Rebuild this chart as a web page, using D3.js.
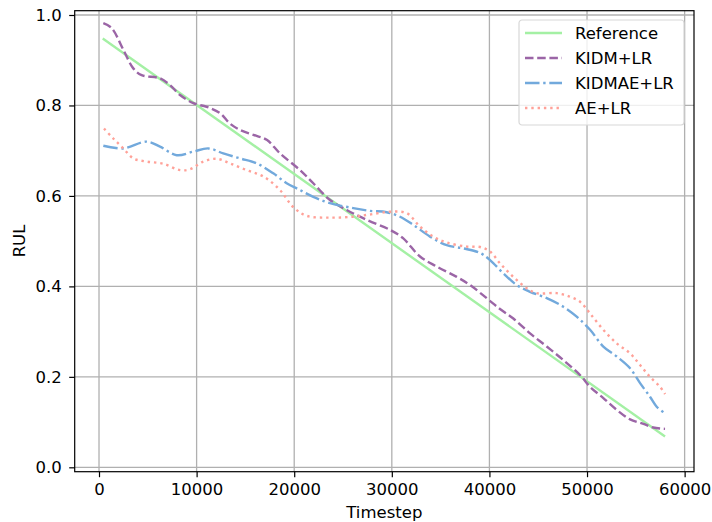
<!DOCTYPE html>
<html>
<head>
<meta charset="utf-8">
<script src="https://cdn.jsdelivr.net/npm/d3@7"></script>
<style>
  body { margin: 0; background: #fff; }
  svg { font-family: "DejaVu Sans", sans-serif; }
</style>
</head>
<body>
<svg id="chart" width="712" height="522"></svg>
<script>
// series: [timestep, RUL]
const reference_data = [[382, 0.948], [57993, 0.068]];

const kidm_data = [
  [442, 0.982], [1298, 0.971], [2496, 0.923], [3513, 0.882], [4368, 0.867], [6251, 0.860],
  [7277, 0.845], [8304, 0.823], [9663, 0.805], [11032, 0.797], [12401, 0.783], [13418, 0.760],
  [14445, 0.746], [15814, 0.735], [17183, 0.724], [18542, 0.694], [20596, 0.657], [21955, 0.628],
  [23666, 0.591], [25377, 0.569], [27431, 0.547], [29817, 0.525], [31176, 0.506], [32887, 0.466],
  [34598, 0.444], [36652, 0.421], [38011, 0.403], [39722, 0.374], [41081, 0.350], [42450, 0.329],
  [44162, 0.296], [45873, 0.267], [47574, 0.237], [49285, 0.204], [50312, 0.178], [51671, 0.153],
  [53040, 0.127], [54409, 0.106], [55778, 0.096], [56795, 0.088], [57993, 0.085]
];

const kidmae_data = [
  [442, 0.711], [2496, 0.705], [4882, 0.720], [6251, 0.709], [7962, 0.690], [9663, 0.698],
  [11203, 0.705], [12734, 0.694], [14445, 0.683], [16156, 0.672], [17857, 0.650], [19226, 0.628],
  [20424, 0.615], [21955, 0.598], [23666, 0.584], [26052, 0.573], [27763, 0.567], [29474, 0.564],
  [30843, 0.554], [32202, 0.536], [33914, 0.510], [35625, 0.491], [37326, 0.484], [39038, 0.474],
  [40064, 0.458], [41423, 0.429], [42792, 0.403], [44162, 0.388], [45873, 0.374], [47574, 0.355],
  [48943, 0.333], [50312, 0.304], [51671, 0.267], [53040, 0.245], [54409, 0.219], [55436, 0.186],
  [56453, 0.156], [57137, 0.134], [57822, 0.122]
];

const ae_data = [
  [513, 0.749], [1459, 0.727], [2496, 0.705], [3513, 0.683], [4882, 0.676], [6593, 0.671],
  [8304, 0.657], [9321, 0.659], [10690, 0.676], [12059, 0.682], [13418, 0.672], [15129, 0.657],
  [16841, 0.643], [18542, 0.613], [19911, 0.575], [21280, 0.556], [23666, 0.552], [26052, 0.554],
  [27763, 0.559], [29817, 0.565], [31528, 0.562], [32887, 0.532], [34256, 0.510], [35625, 0.497],
  [37669, 0.488], [39038, 0.487], [40064, 0.477], [41081, 0.451], [42450, 0.421], [43819, 0.396],
  [44846, 0.385], [46890, 0.385], [48259, 0.377], [49285, 0.366], [50312, 0.340], [51671, 0.304],
  [53040, 0.274], [54409, 0.252], [55436, 0.226], [56453, 0.200], [57480, 0.178], [57993, 0.162]
];

const series_names = ["Reference", "KIDM+LR", "KIDMAE+LR", "AE+LR"];
const x_ticks = [0, 10000, 20000, 30000, 40000, 50000, 60000];
const y_ticks = [0.0, 0.2, 0.4, 0.6, 0.8, 1.0];

// colours and line styles
const pale_green = "#a4f0a4";
const plum = "#9b65a6";
const sky_blue = "#72a9dc";
const salmon = "#ffa198";
const font_size = 16.5;
const line_w = 2.4;

const series = [
  { name: series_names[0], data: reference_data, color: pale_green, dash: null },
  { name: series_names[1], data: kidm_data, color: plum, dash: "8.5,3.7" },
  { name: series_names[2], data: kidmae_data, color: sky_blue, dash: "14.5,3.7,2.4,3.7" },
  { name: series_names[3], data: ae_data, color: salmon, dash: "2.4,3.9" }
];

const svg = d3.select("#chart");

const margins = { left: 74.7, top: 10.7, right: 18, bottom: 50.3 };
const plot_w = 712 - margins.left - margins.right;
const plot_h = 522 - margins.top - margins.bottom;

const xScale = d3.scaleLinear().domain([-2490, 60960]).range([0, plot_w]);
const yScale = d3.scaleLinear().domain([-0.0097, 1.0095]).range([plot_h, 0]);

const g = svg.append("g").attr("transform", `translate(${margins.left},${margins.top})`);

// grid
g.append("g").selectAll("line").data(x_ticks).join("line")
  .attr("x1", d => xScale(d)).attr("x2", d => xScale(d))
  .attr("y1", 0).attr("y2", plot_h)
  .attr("stroke", "#b0b0b0").attr("stroke-width", 1.3);
g.append("g").selectAll("line").data(y_ticks).join("line")
  .attr("y1", d => yScale(d)).attr("y2", d => yScale(d))
  .attr("x1", 0).attr("x2", plot_w)
  .attr("stroke", "#b0b0b0").attr("stroke-width", 1.3);

// lines
const line_generator = d3.line()
  .x(d => xScale(d[0]))
  .y(d => yScale(d[1]))
  .curve(d3.curveCatmullRom);

series.forEach(s => {
  g.append("path")
    .attr("d", line_generator(s.data))
    .attr("fill", "none")
    .attr("stroke", s.color)
    .attr("stroke-width", line_w)
    .attr("stroke-dasharray", s.dash);
});

// axes
const xAxis = g.append("g")
  .attr("transform", `translate(0,${plot_h})`)
  .call(d3.axisBottom(xScale).tickValues(x_ticks).tickFormat(d3.format("d")).tickSize(5.5).tickPadding(6.5));
const yAxis = g.append("g")
  .call(d3.axisLeft(yScale).tickValues(y_ticks).tickFormat(d3.format(".1f")).tickSize(5.5).tickPadding(7.5));

[xAxis, yAxis].forEach(a => {
  a.select(".domain").remove();
  a.selectAll("text").attr("font-size", font_size).attr("fill", "#000").attr("font-family", "DejaVu Sans");
  a.selectAll("line").attr("stroke", "#000").attr("stroke-width", 1.2);
});

// frame
g.append("rect")
  .attr("width", plot_w).attr("height", plot_h)
  .attr("fill", "none").attr("stroke", "#000").attr("stroke-width", 1.2);

// axis labels (x label nudged up so the descender stays inside the page)
svg.append("text")
  .attr("x", margins.left + plot_w / 2).attr("y", 517.5)
  .attr("text-anchor", "middle").attr("font-size", font_size)
  .text("Timestep");
svg.append("text")
  .attr("transform", `translate(25,241) rotate(-90)`)
  .attr("text-anchor", "middle").attr("font-size", font_size)
  .text("RUL");

// legend
const legend = svg.append("g").attr("transform", "translate(519,20)");
legend.append("rect")
  .attr("width", 165).attr("height", 105).attr("rx", 3)
  .attr("fill", "#fff").attr("fill-opacity", 0.8)
  .attr("stroke", "#d8d8d8").attr("stroke-width", 1.2);
series.forEach((s, i) => {
  const y = 13 + i * 25;
  legend.append("line")
    .attr("x1", 6).attr("x2", 43).attr("y1", y).attr("y2", y)
    .attr("stroke", s.color).attr("stroke-width", line_w)
    .attr("stroke-dasharray", s.dash);
  legend.append("text")
    .attr("x", 56).attr("y", y + 6)
    .attr("font-size", font_size)
    .text(s.name);
});
</script>
</body>
</html>
